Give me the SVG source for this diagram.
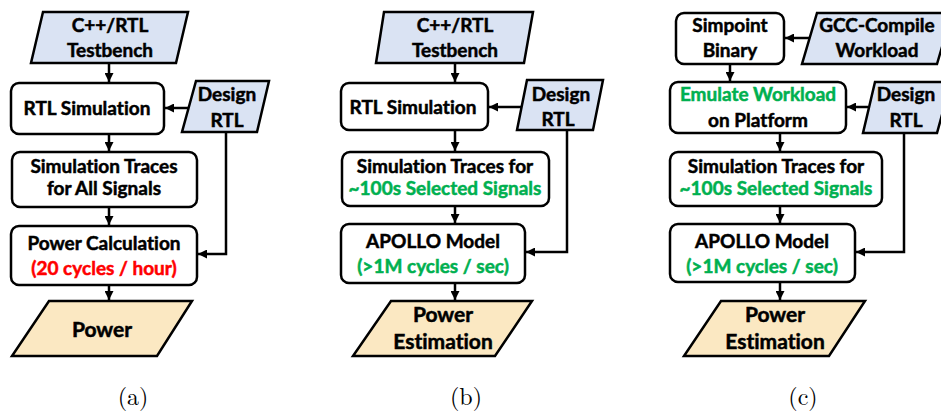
<svg xmlns="http://www.w3.org/2000/svg" width="941" height="412" viewBox="0 0 941 412">
<style>
.box{fill:#fff;stroke:#000;stroke-width:2.5}
.in{fill:#dae3f3;stroke:#000;stroke-width:2.5}
.out{fill:#fbe8c2;stroke:#000;stroke-width:2.5}
.t{font-family:Lato,"Liberation Sans",sans-serif;font-weight:bold;font-size:19px;text-anchor:middle;fill:#000;stroke:#000;stroke-width:0.5;font-variant-ligatures:none}
.big{font-size:21px}
.g{fill:#00b050;stroke:#00b050}
.r{fill:#ff0000;stroke:#ff0000}
.cap{font-family:"Latin Modern Roman","Liberation Serif","DejaVu Serif",serif;font-size:24px;text-anchor:middle;fill:#000}
.ln{fill:none;stroke:#000;stroke-width:2.5}
</style>
<defs>
<marker id="ah" markerUnits="userSpaceOnUse" markerWidth="9" markerHeight="9" viewBox="0 0 10 10" refX="10" refY="5" orient="auto">
<path d="M0,0 L10,5 L0,10 z" fill="#000"/>
</marker>
</defs>

<!-- Panel (a) -->
<g id="a-testbench"><polygon class="in" points="43,12 188,12 176,63 31,63"/><text class="t" x="110" y="32">C++/RTL</text><text class="t" x="110" y="57">Testbench</text></g>
<g id="a-rtlsim"><rect class="box" x="11" y="83" width="153" height="51" rx="8"/><text class="t" x="87" y="115">RTL Simulation</text></g>
<g id="a-design"><polygon class="in" points="196,81 269,81 257,132 182,132"/><text class="t" x="227" y="101">Design</text><text class="t" x="227" y="127">RTL</text></g>
<g id="a-traces"><rect class="box" x="12" y="152" width="185" height="55" rx="8"/><text class="t" x="104" y="173">Simulation Traces</text><text class="t" x="104" y="195">for All Signals</text></g>
<g id="a-powercalc"><rect class="box" x="11" y="226" width="186" height="59" rx="8"/><text class="t" x="104" y="250">Power Calculation</text><text class="t r" x="104" y="275">(20 cycles / hour)</text></g>
<g id="a-power"><polygon class="out" points="49,301 192,301 157,356 12,356"/><text class="t big" x="102" y="337">Power</text></g>
<text class="cap" x="133" y="405">(a)</text>

<!-- Panel (b) -->
<g id="b-testbench"><polygon class="in" points="384,12 533,12 524,63 376,63"/><text class="t" x="455" y="32">C++/RTL</text><text class="t" x="455" y="57">Testbench</text></g>
<g id="b-rtlsim"><rect class="box" x="341" y="83" width="147" height="47" rx="8"/><text class="t" x="413" y="114">RTL Simulation</text></g>
<g id="b-design"><polygon class="in" points="527,80 603,80 593,130 517,130"/><text class="t" x="561" y="101">Design</text><text class="t" x="558" y="126">RTL</text></g>
<g id="b-traces"><rect class="box" x="342" y="152" width="207" height="54" rx="8"/><text class="t" x="445" y="173">Simulation Traces for</text><text class="t g" x="445" y="195">~100s Selected Signals</text></g>
<g id="b-apollo"><rect class="box" x="341" y="224" width="184" height="59" rx="8"/><text class="t" x="433" y="248">APOLLO Model</text><text class="t g" x="433" y="273">(&gt;1M cycles / sec)</text></g>
<g id="b-power"><polygon class="out" points="391,301 532,301 495,356 353,356"/><text class="t big" x="443" y="322">Power</text><text class="t big" x="443" y="349">Estimation</text></g>
<text class="cap" x="466" y="405">(b)</text>

<!-- Panel (c) -->
<g id="c-simpoint"><rect class="box" x="676" y="13" width="108" height="51" rx="8"/><text class="t" x="730" y="32">Simpoint</text><text class="t" x="730" y="57">Binary</text></g>
<g id="c-gcc"><polygon class="in" points="817,13 952,13 937,64 802,64"/><text class="t" x="877" y="32">GCC-Compile</text><text class="t" x="877" y="57">Workload</text></g>
<g id="c-emulate"><rect class="box" x="670" y="82" width="176" height="51" rx="8"/><text class="t g" x="758" y="101">Emulate Workload</text><text class="t" x="758" y="127">on Platform</text></g>
<g id="c-design"><polygon class="in" points="875,82 951,82 937,133 863,133"/><text class="t" x="906" y="101">Design</text><text class="t" x="906" y="127">RTL</text></g>
<g id="c-traces"><rect class="box" x="670" y="152" width="212" height="54" rx="8"/><text class="t" x="776" y="173">Simulation Traces for</text><text class="t g" x="776" y="195">~100s Selected Signals</text></g>
<g id="c-apollo"><rect class="box" x="670" y="224" width="185" height="58" rx="8"/><text class="t" x="762" y="248">APOLLO Model</text><text class="t g" x="762" y="273">(&gt;1M cycles / sec)</text></g>
<g id="c-power"><polygon class="out" points="721,301 865,301 829,356 684,356"/><text class="t big" x="775" y="322">Power</text><text class="t big" x="775" y="349">Estimation</text></g>
<text class="cap" x="803" y="405">(c)</text>

<!-- Connectors -->
<g id="connectors" class="ln" marker-end="url(#ah)">
<line x1="109" y1="63" x2="109" y2="82"/>
<line x1="189" y1="108" x2="165" y2="108"/>
<line x1="109" y1="134" x2="109" y2="151"/>
<line x1="109" y1="207" x2="109" y2="225"/>
<polyline points="226,132 226,254 198,254"/>
<line x1="109" y1="285" x2="109" y2="300"/>

<line x1="455" y1="63" x2="455" y2="82"/>
<line x1="522" y1="107" x2="489" y2="107"/>
<line x1="455" y1="130" x2="455" y2="151"/>
<line x1="455" y1="206" x2="455" y2="223"/>
<polyline points="567,130 567,252 526,252"/>
<line x1="455" y1="283" x2="455" y2="300"/>

<line x1="809" y1="38" x2="785" y2="38"/>
<line x1="730" y1="64" x2="730" y2="81"/>
<line x1="868" y1="107" x2="847" y2="107"/>
<line x1="780" y1="133" x2="780" y2="151"/>
<polyline points="904,133 904,252 856,252"/>
<line x1="780" y1="206" x2="780" y2="223"/>
<line x1="780" y1="282" x2="780" y2="300"/>
</g>
</svg>
